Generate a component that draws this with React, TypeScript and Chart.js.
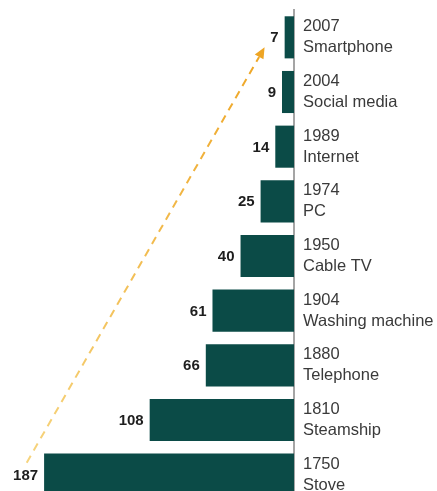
import React, { useEffect, useRef } from "react";
import { Chart, registerables } from "chart.js";

Chart.register(...registerables);

// Data
const years = ["2007", "2004", "1989", "1974", "1950", "1904", "1880", "1810", "1750"];
const inventions = [
  "Smartphone",
  "Social media",
  "Internet",
  "PC",
  "Cable TV",
  "Washing machine",
  "Telephone",
  "Steamship",
  "Stove",
];
const yearsToAdoption = [7, 9, 14, 25, 40, 61, 66, 108, 187];

const BAR_COLOR = "#0b4b47";
const TEXT_COLOR = "#3a3a3a";
const VALUE_COLOR = "#1e1e1e";

const valueLabelPlugin = {
  id: "valueLabels",
  afterDatasetsDraw(chart: any) {
    const ctx = chart.ctx;
    const meta = chart.getDatasetMeta(0);
    ctx.save();
    ctx.font = "bold 15px 'Liberation Sans', Arial, sans-serif";
    ctx.fillStyle = VALUE_COLOR;
    ctx.textAlign = "right";
    ctx.textBaseline = "middle";
    meta.data.forEach((bar: any, i: number) => {
      ctx.fillText(String(yearsToAdoption[i]), bar.x - 6, bar.y + 1);
    });
    ctx.restore();
  },
};

const arrowPlugin = {
  id: "trendArrow",
  afterDraw(chart: any) {
    const ctx = chart.ctx;
    const xs = chart.scales.x;
    const ys = chart.scales.y;
    const n = yearsToAdoption.length;
    const x0 = xs.getPixelForValue(yearsToAdoption[n - 1] + 13);
    const y0 = ys.getPixelForValue(n - 1) - 12;
    const x1 = xs.getPixelForValue(yearsToAdoption[0] + 15);
    const y1 = ys.getPixelForValue(0) + 10;
    const ang = Math.atan2(y1 - y0, x1 - x0);
    const headLen = 11;
    const hx = x1 - headLen * Math.cos(ang);
    const hy = y1 - headLen * Math.sin(ang);
    const grad = ctx.createLinearGradient(x0, y0, x1, y1);
    grad.addColorStop(0, "#f6d47e");
    grad.addColorStop(1, "#eea524");
    ctx.save();
    ctx.strokeStyle = grad;
    ctx.lineWidth = 2;
    ctx.setLineDash([8, 6]);
    ctx.beginPath();
    ctx.moveTo(x0, y0);
    ctx.lineTo(hx, hy);
    ctx.stroke();
    ctx.setLineDash([]);
    ctx.fillStyle = "#eea524";
    const w = 5;
    ctx.beginPath();
    ctx.moveTo(x1, y1);
    ctx.lineTo(hx + w * Math.sin(ang), hy - w * Math.cos(ang));
    ctx.lineTo(hx - w * Math.sin(ang), hy + w * Math.cos(ang));
    ctx.closePath();
    ctx.fill();
    ctx.restore();
  },
};

export default function App() {
  const canvasRef = useRef<HTMLCanvasElement | null>(null);

  useEffect(() => {
    if (!canvasRef.current) return;
    const labels = years.map((y, i) => [y, inventions[i]]);
    const chart = new Chart(canvasRef.current, {
      type: "bar",
      data: {
        labels,
        datasets: [
          {
            data: yearsToAdoption,
            backgroundColor: BAR_COLOR,
            borderWidth: 0,
            barPercentage: 0.77,
            categoryPercentage: 1,
          },
        ],
      },
      options: {
        indexAxis: "y",
        responsive: false,
        animation: false,
        layout: { padding: { top: 10, left: 0, right: 0, bottom: 0 } },
        plugins: {
          legend: { display: false },
          tooltip: { enabled: false },
        },
        scales: {
          x: {
            display: false,
            reverse: true,
            min: 0,
            max: 220,
          },
          y: {
            position: "right",
            grid: { display: false, drawTicks: false },
            border: { display: true, color: "#a5a5a5", width: 2 },
            ticks: {
              padding: 9,
              color: TEXT_COLOR,
              font: { family: "'Liberation Sans', Arial, sans-serif", size: 16.5, lineHeight: 1.28 },
            },
            afterFit(scale: any) {
              scale.width = 143;
              scale.paddingTop = 0;
              scale.paddingBottom = 0;
            },
          },
        },
      },
      plugins: [valueLabelPlugin, arrowPlugin],
    });
    return () => chart.destroy();
  }, []);

  return (
    <div
      style={{
        position: "absolute",
        left: 0,
        top: 0,
        width: 437,
        height: 491,
        overflow: "hidden",
        background: "#ffffff",
      }}
    >
      <canvas ref={canvasRef} width={437} height={502} style={{ display: "block" }} />
    </div>
  );
}
